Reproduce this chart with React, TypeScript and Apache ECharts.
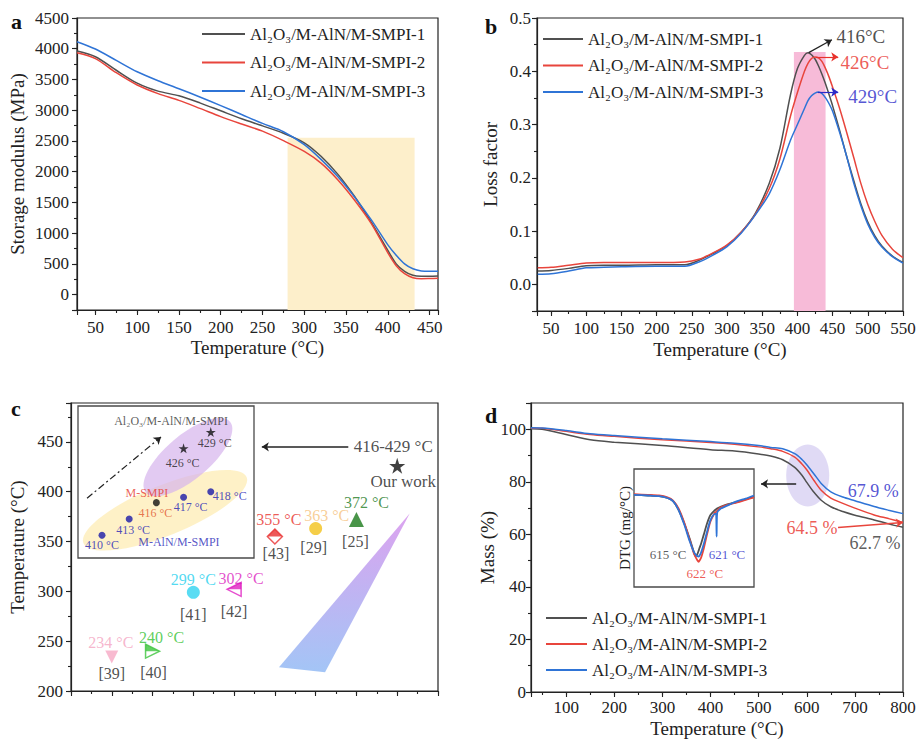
import { useEffect, useRef } from 'react';
import * as echarts from 'echarts';

const FONT = "'Liberation Serif', 'Times New Roman', 'DejaVu Serif', serif";
const INK = '#222222';
const COLORS = ['#505050', '#e8453c', '#2f74d6'];
const NAMES = ['Al₂O₃/M-AlN/M-SMPI-1', 'Al₂O₃/M-AlN/M-SMPI-2', 'Al₂O₃/M-AlN/M-SMPI-3'];

// ---------- (a) storage modulus ----------
const aTemp = [28, 50, 75, 100, 125, 150, 175, 200, 225, 250, 275, 300, 320, 340, 360, 380, 400, 410, 420, 430, 440, 450, 460];
const aMod1 = [3962, 3870, 3650, 3440, 3310, 3235, 3120, 2990, 2860, 2745, 2625, 2470, 2250, 1960, 1600, 1180, 720, 500, 380, 315, 300, 300, 305];
const aMod2 = [3935, 3840, 3610, 3410, 3270, 3160, 3030, 2895, 2775, 2660, 2505, 2330, 2140, 1870, 1540, 1160, 680, 470, 340, 275, 260, 262, 265];
const aMod3 = [4114, 3995, 3810, 3625, 3480, 3350, 3215, 3075, 2930, 2785, 2650, 2440, 2200, 1920, 1590, 1220, 810, 640, 500, 420, 385, 380, 380];
const aWindow = [280, 432];
const aWindowTop = 2550;

// ---------- (b) loss factor ----------
const bTemp = [31, 50, 75, 100, 125, 150, 200, 240, 260, 280, 300, 320, 340, 360, 375, 390, 400, 410, 415, 420, 425, 430, 435, 440, 445, 450, 460, 470, 480, 490, 500, 510, 520, 535, 550];
const bTan1 = [0.025, 0.026, 0.030, 0.035, 0.036, 0.036, 0.037, 0.037, 0.045, 0.058, 0.073, 0.098, 0.133, 0.19, 0.255, 0.355, 0.405, 0.43, 0.435, 0.431, 0.423, 0.41, 0.394, 0.376, 0.356, 0.335, 0.289, 0.24, 0.195, 0.152, 0.117, 0.091, 0.072, 0.053, 0.041];
const bTan2 = [0.031, 0.032, 0.036, 0.040, 0.041, 0.041, 0.041, 0.042, 0.047, 0.059, 0.074, 0.098, 0.131, 0.18, 0.235, 0.315, 0.36, 0.40, 0.415, 0.424, 0.427, 0.425, 0.418, 0.405, 0.389, 0.37, 0.33, 0.285, 0.238, 0.19, 0.15, 0.118, 0.092, 0.066, 0.05];
const bTan3 = [0.019, 0.02, 0.025, 0.031, 0.032, 0.033, 0.034, 0.034, 0.042, 0.055, 0.071, 0.096, 0.13, 0.17, 0.215, 0.27, 0.3, 0.33, 0.345, 0.354, 0.359, 0.361, 0.358, 0.35, 0.339, 0.325, 0.285, 0.24, 0.19, 0.148, 0.113, 0.088, 0.07, 0.052, 0.04];
const bPeakT = [416, 426, 429];
const bPeakV = [0.435, 0.427, 0.361];
const bWindow = [395, 440];
const bWindowTop = 0.436;

// ---------- (c) comparison with literature ----------
const cRefs = ['[39]', '[40]', '[41]', '[42]', '[43]', '[29]', '[25]'];
const cTemps = [234, 240, 299, 302, 355, 363, 372];
const cOrder = [1, 2, 3, 4, 5, 6, 7];
const ourOrder = 8;
const ourTemp = 426;
const ourRange = '416-429 °C';
// inset of (c)
const insetT = [410, 413, 416, 417, 418, 426, 429];
const insetOrder = [1, 2, 3, 4, 5, 4, 5];
const insetKind = [0, 0, 1, 0, 0, 2, 2]; // 0: M-AlN/M-SMPI, 1: M-SMPI, 2: Al2O3/M-AlN/M-SMPI
const insetGroupNames = ['M-AlN/M-SMPI', 'M-SMPI', 'Al₂O₃/M-AlN/M-SMPI'];

// ---------- (d) TGA ----------
const dTemp = [27, 50, 100, 150, 200, 300, 400, 450, 500, 525, 550, 575, 590, 600, 615, 630, 650, 675, 700, 740, 770, 800];
const dMass1 = [100.2, 100.0, 98.0, 96.0, 95.1, 93.8, 92.2, 91.7, 90.6, 89.8, 88.4, 85.5, 82.5, 79.8, 76.0, 73.0, 70.5, 68.7, 67.3, 65.5, 64.0, 62.7];
const dMass2 = [100.5, 100.4, 99.2, 98.0, 97.3, 96.0, 95.0, 94.3, 93.3, 92.6, 91.6, 89.4, 86.8, 84.6, 80.5, 76.8, 73.8, 71.8, 70.0, 67.4, 66.0, 64.5];
const dMass3 = [100.6, 100.5, 99.5, 98.3, 97.6, 96.4, 95.3, 94.7, 93.8, 93.1, 92.6, 90.7, 88.5, 86.5, 83.0, 79.4, 76.2, 74.2, 72.8, 70.6, 69.2, 67.9];
const dResidue = ['62.7 %', '64.5 %', '67.9 %'];
// DTG inset
const dtgTemp = [505, 530, 550, 565, 575, 585, 595, 605, 612, 615, 618, 621, 622, 625, 630, 636, 642, 650, 652, 653, 654, 660, 672, 690, 705, 720];
const dtg1 = [0, -0.01, -0.02, -0.05, -0.1, -0.24, -0.45, -0.7, -0.9, -0.97, -0.95, -0.88, -0.85, -0.78, -0.63, -0.45, -0.32, -0.24, -0.23, -0.22, -0.22, -0.19, -0.15, -0.11, -0.07, -0.03];
const dtg2 = [0.01, 0, -0.01, -0.04, -0.09, -0.22, -0.44, -0.72, -0.92, -0.98, -1.03, -1.06, -1.06, -1.0, -0.85, -0.62, -0.42, -0.28, -0.27, -0.26, -0.25, -0.2, -0.16, -0.12, -0.08, -0.04];
const dtg3 = [0, -0.01, -0.02, -0.05, -0.1, -0.24, -0.47, -0.74, -0.9, -0.94, -0.97, -0.98, -0.97, -0.92, -0.78, -0.58, -0.4, -0.3, -0.3, -0.66, -0.29, -0.22, -0.17, -0.1, -0.06, -0.01];
const dtgPeaks = ['615 °C', '622 °C', '621 °C'];

// ---------- layout & decoration (pixels / data-space anchors) ----------
const GRIDS = [
  { left: 77, top: 18, width: 361, height: 292 },
  { left: 537, top: 18, width: 366, height: 293 },
  { left: 71, top: 403, width: 367, height: 288 },
  { left: 531, top: 403, width: 372, height: 290 },
  { left: 78, top: 406, width: 176, height: 152 },
  { left: 634, top: 469, width: 120, height: 118 },
];
const bArrowEnd = [[449, 0.459], [458, 0.427], [458, 0.361]];
const bLabelPos = [[490, 0.466], [496, 0.417], [507, 0.352]];
const bLabelColor = ['#222222', '#e8322c', '#2a2ac8'];
const cMarkColor = ['#f6a9c4', '#3cc43c', '#2fd3f0', '#e021c2', '#e83030', '#f2c21a', '#1b7a1b'];
const cTempColor = ['#f4a3bf', '#33c233', '#25d0ee', '#dc1fbf', '#e8302c', '#f6c27d', '#1f7d1f'];
const cTempOffset = [[-1, -15], [9, -14], [0, -13], [7, -11], [4, -17], [11, -13], [10, -17]];
const cRefOffset = [[0, 16], [1, 21], [0, 22], [0, 22], [1, 17], [-2, 19], [-1, 22]];
const cArrow = [[6.8, 445], [4.68, 445]];
const cTri = [[5.1, 223.8], [6.23, 218.8], [8.31, 378.4]];
const insetLabelOffset = [[0, 10], [4, 11], [-1, 10], [7, 10], [19, 4], [-1, 15], [4, 11]];
const insetLabelColor = ['#2121b5', '#2121b5', '#e0552e', '#2121b5', '#2121b5', '#222222', '#222222'];
const insetGroupPos = [[3.83, 408.7], [2.65, 417.7], [3.54, 431.0]];
const insetGroupColor = ['#2a2ab8', '#e63a2e', '#333333'];
const insetArrow = [[0.45, 416.8], [3.17, 428.1]];
const insetEllipses = [
  { c: [3.32, 414.6], rx: 88, ry: 25, rot: 22, color: 'rgba(253, 236, 180, 0.75)' },
  { c: [4.16, 424.4], rx: 55, ry: 22, rot: 40, color: 'rgba(214, 180, 236, 0.7)' },
];
const dEllipse = [{ c: [602, 82.4], rx: 21.5, ry: 31, rot: 0, color: 'rgba(204, 194, 238, 0.6)' }];
const dResiduePos = [[742, 56.6], [611, 62.6], [738, 76.6]];
const dResidueColor = ['#333333', '#e8322c', '#2a2ac8'];
const dRedArrowStart = [665, 62.6];
const dBlackArrow = [[578, 79.2], [505, 79.2]];
const dtgPeakPos = [[566, -0.95], [632, -1.24], [671.6, -0.95]];
const dtgPeakColor = ['#333333', '#e8322c', '#2a2ac8'];

const STAR = 'path://M0,-10L2.245,-3.09L9.51,-3.09L3.633,1.18L5.88,8.09L0,3.82L-5.88,8.09L-3.633,1.18L-9.51,-3.09L-2.245,-3.09Z';
const RIGHT_TRI = 'path://M-1,-1L1,0L-1,1Z';
const RIGHT_TRI_TOP = 'path://M-1,1M-1,-1L1,0L-1,0Z';
const LEFT_TRI = 'path://M1,-1L-1,0L1,1Z';
const LEFT_TRI_TOP = 'path://M1,1M1,-1L-1,0L1,0Z';
const DIAMOND = 'path://M0,-1L1,0L0,1L-1,0Z';
const DIAMOND_TOP = 'path://M0,1M-1,0L0,-1L1,0Z';
const cMarkerShapes = [
  [{ symbol: 'triangle', rotate: 180, size: 13, hollow: false }],
  [{ symbol: RIGHT_TRI, size: 14, hollow: true }, { symbol: RIGHT_TRI_TOP, size: 14, hollow: false }],
  [{ symbol: 'circle', size: 13, hollow: false }],
  [{ symbol: LEFT_TRI, size: 14, hollow: true }, { symbol: LEFT_TRI_TOP, size: 14, hollow: false }],
  [{ symbol: DIAMOND, size: 15, hollow: true }, { symbol: DIAMOND_TOP, size: 15, hollow: false }],
  [{ symbol: 'circle', size: 13, hollow: false }],
  [{ symbol: 'triangle', size: 15, hollow: false }],
];

type AnyObj = Record<string, any>;

function isMult(v: number, step: number) {
  const r = v / step;
  return Math.abs(r - Math.round(r)) < 1e-6;
}

function buildOption() {
  const xAxes: AnyObj[] = [];
  const yAxes: AnyObj[] = [];

  function addAxes(list: AnyObj[], dim: 'x' | 'y', grid: number, min: number, max: number, major: number, minor: number, cfg: AnyObj) {
    const base = { type: 'value', gridIndex: grid, min, max, position: dim === 'x' ? 'bottom' : 'left', splitLine: { show: false } };
    list.push({
      ...base,
      minInterval: major,
      maxInterval: major,
      splitNumber: Math.round((max - min) / major),
      axisLine: { show: true, onZero: false, lineStyle: { color: INK, width: 1.2 } },
      axisTick: { show: true, inside: false, length: 5, lineStyle: { color: INK, width: 1.1 } },
      axisLabel: cfg.labels === false
        ? { show: false }
        : {
            show: true, fontFamily: FONT, fontSize: 17, color: INK, margin: cfg.margin ?? 8,
            formatter: (v: number) => (isMult(v, major) ? (cfg.fmt ? cfg.fmt(v) : String(Math.round(v))) : ''),
          },
      name: cfg.name,
      nameLocation: 'middle',
      nameGap: cfg.nameGap,
      nameTextStyle: { fontFamily: FONT, fontSize: 19, color: INK },
    });
    const idx = list.length - 1;
    list.push({
      ...base,
      minInterval: minor,
      maxInterval: minor,
      splitNumber: Math.round((max - min) / minor),
      axisLine: { show: false, onZero: false },
      axisLabel: { show: false },
      axisTick: { show: true, inside: false, length: 3, lineStyle: { color: INK, width: 1.1 } },
    });
    return idx;
  }
  function hiddenAxis(list: AnyObj[], grid: number, min: number, max: number, extra: AnyObj = {}) {
    list.push({ type: 'value', gridIndex: grid, min, max, show: false, splitLine: { show: false }, axisLine: { onZero: false }, ...extra });
    return list.length - 1;
  }

  const ax = addAxes(xAxes, 'x', 0, 28, 460, 50, 25, { name: 'Temperature (°C)', nameGap: 28, margin: 9 });
  const ay = addAxes(yAxes, 'y', 0, -250, 4500, 500, 250, { name: 'Storage modulus (MPa)', nameGap: 50 });
  const bx = addAxes(xAxes, 'x', 1, 30, 550, 50, 25, { name: 'Temperature (°C)', nameGap: 29, margin: 9 });
  const by = addAxes(yAxes, 'y', 1, -0.05, 0.5, 0.1, 0.05, { name: 'Loss factor', nameGap: 37, margin: 6, fmt: (v: number) => v.toFixed(1) });
  const cx = addAxes(xAxes, 'x', 2, 0, 9, 1, 0.5, { labels: false });
  const cy = addAxes(yAxes, 'y', 2, 200, 489, 50, 25, { name: 'Temperature (°C)', nameGap: 44 });
  const dx = addAxes(xAxes, 'x', 3, 27, 800, 100, 50, { name: 'Temperature (°C)', nameGap: 27, margin: 7 });
  const dy = addAxes(yAxes, 'y', 3, 0, 110, 20, 10, { name: 'Mass (%)', nameGap: 25, margin: 5 });
  const cix = hiddenAxis(xAxes, 4, 0.118, 6.59);
  const ciy = hiddenAxis(yAxes, 4, 405.8, 433.8);
  const dix = hiddenAxis(xAxes, 5, 505, 720);
  const diy = hiddenAxis(yAxes, 5, -1.46, 0.41, {
    show: true,
    position: 'left',
    axisLine: { show: false, onZero: false },
    axisTick: { show: false },
    axisLabel: { show: false },
    name: 'DTG (mg/°C)',
    nameLocation: 'middle',
    nameGap: 2,
    nameTextStyle: { fontFamily: FONT, fontSize: 15, color: INK },
  });

  const arrowLine = (from: number[], to: number[], color: string, extra: AnyObj = {}) => ({
    silent: true,
    symbol: ['none', 'arrow'],
    symbolSize: 7,
    label: { show: false },
    emphasis: { disabled: true },
    lineStyle: { color, width: 1.2, type: 'solid', ...extra },
    data: [[{ coord: from }, { coord: to }]],
  });

  const line = (name: string, color: string, xi: number, yi: number, xs: number[], ys: number[], extra: AnyObj = {}) => ({
    type: 'line', name, xAxisIndex: xi, yAxisIndex: yi,
    data: xs.map((x, i) => [x, ys[i]]),
    showSymbol: false, symbol: 'none', smooth: 0.3,
    color, lineStyle: { color, width: 1.5 }, itemStyle: { color },
    silent: true, z: 3, emphasis: { disabled: true },
    ...extra,
  });

  type TextItem = { pos: number[]; text: string; color: string; size: number; offset?: number[] };
  const texts = (xi: number, yi: number, items: TextItem[]) => ({
    type: 'scatter', xAxisIndex: xi, yAxisIndex: yi, z: 6, silent: true,
    symbol: 'circle', symbolSize: 1, itemStyle: { color: 'rgba(0,0,0,0)' },
    emphasis: { disabled: true },
    data: items.map((it) => ({
      name: it.text,
      value: it.pos,
      label: {
        show: true, position: 'inside', formatter: '{b}', color: it.color,
        fontSize: it.size, fontFamily: FONT, offset: it.offset || [0, 0],
      },
    })),
  });

  const ellipses = (xi: number, yi: number, items: AnyObj[]) => ({
    type: 'custom', xAxisIndex: xi, yAxisIndex: yi, z: 1, silent: true,
    data: items.map((it) => it.c),
    renderItem: (params: any, api: any) => {
      const it = items[params.dataIndex];
      const p = api.coord([api.value(0), api.value(1)]);
      return {
        type: 'ellipse', x: p[0], y: p[1], rotation: (it.rot * Math.PI) / 180,
        shape: { cx: 0, cy: 0, rx: it.rx, ry: it.ry }, style: { fill: it.color },
      };
    },
  });

  const series: AnyObj[] = [];

  // (a)
  series.push({
    type: 'line', xAxisIndex: ax, yAxisIndex: ay, data: [], silent: true,
    markArea: {
      silent: true, itemStyle: { color: '#fdefcb' },
      data: [[{ coord: [aWindow[0], -250] }, { coord: [aWindow[1], aWindowTop] }]],
    },
  });
  [aMod1, aMod2, aMod3].forEach((ys, i) => series.push(line(NAMES[i], COLORS[i], ax, ay, aTemp, ys)));

  // (b)
  series.push({
    type: 'line', xAxisIndex: bx, yAxisIndex: by, data: [], silent: true,
    markArea: {
      silent: true, itemStyle: { color: '#f7bbd8' },
      data: [[{ coord: [bWindow[0], -0.05] }, { coord: [bWindow[1], bWindowTop] }]],
    },
  });
  [bTan1, bTan2, bTan3].forEach((ys, i) =>
    series.push(
      line(NAMES[i], COLORS[i], bx, by, bTemp, ys, {
        markLine: arrowLine([bPeakT[i], bPeakV[i]], bArrowEnd[i], i === 0 ? INK : bLabelColor[i]),
      })
    )
  );
  series.push(
    texts(bx, by, bPeakT.map((t, i) => ({ pos: bLabelPos[i], text: `${t}°C`, color: bLabelColor[i], size: 19 })))
  );

  // (c)
  series.push({
    type: 'custom', xAxisIndex: cx, yAxisIndex: cy, z: 1, silent: true,
    data: [cTri[0]],
    renderItem: (_p: any, api: any) => ({
      type: 'polygon',
      shape: { points: cTri.map((v) => api.coord(v)) },
      style: {
        fill: new echarts.graphic.LinearGradient(0, 0, 0, 1, [
          { offset: 0, color: '#dca3ef' },
          { offset: 1, color: '#a3c5f6' },
        ]),
      },
    }),
  });
  const cData: AnyObj[] = [];
  cOrder.forEach((x, i) => {
    cMarkerShapes[i].forEach((m: AnyObj) => {
      cData.push({
        value: [x, cTemps[i]],
        symbol: m.symbol,
        symbolSize: m.size,
        symbolRotate: m.rotate || 0,
        itemStyle: m.hollow
          ? { color: '#ffffff', borderColor: cMarkColor[i], borderWidth: 1.5 }
          : { color: cMarkColor[i], borderWidth: 0 },
      });
    });
  });
  cData.push({ value: [ourOrder, ourTemp], symbol: STAR, symbolSize: 16, itemStyle: { color: '#111111' } });
  series.push({
    type: 'scatter', xAxisIndex: cx, yAxisIndex: cy, z: 4, silent: true, data: cData,
    emphasis: { disabled: true },
    markLine: arrowLine(cArrow[0], cArrow[1], INK, { width: 1.5 }),
  });
  series.push(
    texts(cx, cy, [
      ...cOrder.map((x, i) => ({ pos: [x, cTemps[i]], text: `${cTemps[i]} °C`, color: cTempColor[i], size: 16, offset: cTempOffset[i] })),
      ...cOrder.map((x, i) => ({ pos: [x, cTemps[i]], text: cRefs[i], color: INK, size: 16, offset: cRefOffset[i] })),
      { pos: [ourOrder, ourTemp], text: ourRange, color: INK, size: 17, offset: [-4, -19] },
      { pos: [ourOrder, ourTemp], text: 'Our work', color: INK, size: 17, offset: [6, 16] },
    ])
  );

  // (c) inset
  series.push(ellipses(cix, ciy, insetEllipses));
  series.push({
    type: 'scatter', xAxisIndex: cix, yAxisIndex: ciy, z: 4, silent: true,
    emphasis: { disabled: true },
    data: insetT.map((t, i) => ({
      value: [insetOrder[i], t],
      symbol: insetKind[i] === 2 ? STAR : 'circle',
      symbolSize: insetKind[i] === 2 ? 10 : 7,
      itemStyle: { color: insetKind[i] === 0 ? '#1a1aa8' : '#111111' },
    })),
    markLine: arrowLine(insetArrow[0], insetArrow[1], '#222222', { type: [7, 3, 2, 3], width: 1.2 }),
  });
  series.push(
    texts(cix, ciy, [
      ...insetT.map((t, i) => ({ pos: [insetOrder[i], t], text: `${t} °C`, color: insetLabelColor[i], size: 12, offset: insetLabelOffset[i] })),
      ...insetGroupNames.map((n, k) => ({ pos: insetGroupPos[k], text: n, color: insetGroupColor[k], size: 12 })),
    ])
  );

  // (d)
  series.push(ellipses(dx, dy, dEllipse));
  [dMass1, dMass2, dMass3].forEach((ys, i) => {
    const extra: AnyObj = {};
    if (i === 0) extra.markLine = arrowLine(dBlackArrow[0], dBlackArrow[1], INK, { width: 1.5 });
    if (i === 1) extra.markLine = arrowLine(dRedArrowStart, [dTemp[dTemp.length - 1], dMass2[dMass2.length - 1]], COLORS[1], { width: 1.5 });
    series.push(line(NAMES[i], COLORS[i], dx, dy, dTemp, ys, extra));
  });
  series.push(
    texts(dx, dy, dResidue.map((t, i) => ({ pos: dResiduePos[i], text: t, color: dResidueColor[i], size: 18 })))
  );

  // (d) inset DTG
  [dtg1, dtg2, dtg3].forEach((ys, i) =>
    series.push(line(`DTG ${i + 1}`, COLORS[i], dix, diy, dtgTemp, ys, { smooth: 0.25, lineStyle: { color: COLORS[i], width: 1.8 } }))
  );
  series.push(
    texts(dix, diy, dtgPeaks.map((t, i) => ({ pos: dtgPeakPos[i], text: t, color: dtgPeakColor[i], size: 13 })))
  );

  const legendBase = {
    data: NAMES, orient: 'vertical', padding: 0, itemHeight: 2, icon: 'rect', selectedMode: false,
    textStyle: { fontFamily: FONT, fontSize: 17, color: INK, lineHeight: 20 },
  };

  const letter = (t: string, left: number, top: number) => ({
    type: 'text', left, top, silent: true,
    style: { text: t, font: `bold 22px ${FONT}`, fill: '#111111' },
  });

  return {
    animation: false,
    backgroundColor: '#ffffff',
    grid: GRIDS.map((g, i) => ({
      ...g, show: true, containLabel: false,
      borderColor: i >= 4 ? '#4a4a4a' : INK, borderWidth: i >= 4 ? 1.3 : 1.2,
      backgroundColor: i >= 4 ? '#ffffff' : 'transparent',
    })),
    xAxis: xAxes,
    yAxis: yAxes,
    legend: [
      { ...legendBase, left: 202, top: 24, itemGap: 8.5, itemWidth: 43 },
      { ...legendBase, left: 543, top: 29, itemGap: 6.5, itemWidth: 40 },
      { ...legendBase, left: 546, top: 608, itemGap: 6, itemWidth: 41 },
    ],
    series,
    graphic: [letter('a', 11, 10), letter('b', 485, 15), letter('c', 11, 397), letter('d', 485, 404)],
  };
}

export default function App() {
  const ref = useRef<HTMLDivElement>(null);
  useEffect(() => {
    if (!ref.current) return;
    const chart = echarts.init(ref.current, undefined, { renderer: 'svg' });
    chart.setOption(buildOption() as any);
    return () => chart.dispose();
  }, []);
  return (
    <div
      ref={ref}
      style={{ position: 'absolute', left: 0, top: 0, width: 919, height: 739, background: '#ffffff' }}
    />
  );
}
